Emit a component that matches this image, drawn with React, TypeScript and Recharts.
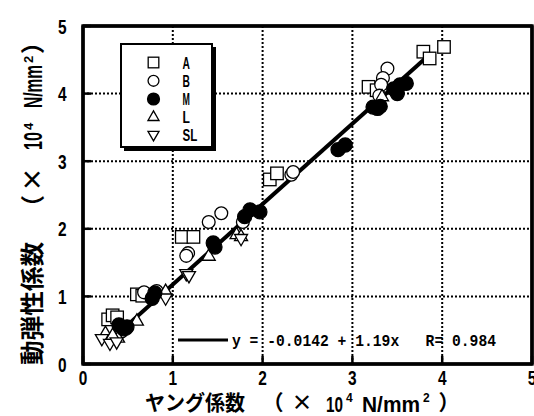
import React from 'react';
import { ScatterChart, Scatter, XAxis, YAxis, CartesianGrid, ReferenceLine, ReferenceArea, Customized } from 'recharts';

type Pt = [number, number];

// Series A (open squares)
const seriesA: Pt[] = [
  [3.79, 4.62], [3.86, 4.52], [4.02, 4.69], [3.18, 4.10], [3.27, 4.05],
  [2.08, 2.73], [2.16, 2.82], [1.10, 1.88], [1.23, 1.88], [0.60, 1.03],
  [0.66, 1.01], [0.28, 0.66], [0.33, 0.72], [0.38, 0.69],
];
// Series B (open circles)
const seriesB: Pt[] = [
  [3.39, 4.37], [3.34, 4.23], [3.32, 4.13], [3.30, 3.97], [2.32, 2.80],
  [2.34, 2.84], [1.54, 2.23], [1.40, 2.10], [1.78, 2.10], [1.17, 1.64],
  [1.15, 1.60], [0.82, 1.08], [0.68, 1.06], [0.43, 0.48], [0.48, 0.52],
];
// Series M (filled circles)
const seriesM: Pt[] = [
  [3.53, 4.13], [3.60, 4.15], [3.46, 4.07], [3.50, 4.00], [3.31, 3.81],
  [3.23, 3.80], [3.28, 3.78], [2.84, 3.17], [2.92, 3.24], [1.97, 2.25],
  [1.86, 2.28], [1.80, 2.18], [1.45, 1.79], [1.47, 1.73], [0.80, 1.05],
  [0.77, 0.97], [0.40, 0.58], [0.49, 0.55], [0.45, 0.52],
];
// Series L (triangles up)
const seriesL: Pt[] = [
  [3.33, 3.95], [1.71, 1.91], [1.76, 1.88], [1.40, 1.59], [0.92, 1.07],
  [0.60, 0.63], [0.25, 0.45], [0.39, 0.38], [0.33, 0.42],
];
// Series SL (triangles down)
const seriesSL: Pt[] = [
  [1.76, 1.86], [1.15, 1.34], [1.18, 1.31], [0.92, 0.98], [0.21, 0.38],
  [0.30, 0.31], [0.375, 0.33],
];

const xTicks = [0, 1, 2, 3, 4, 5];
const yTicks = [0, 1, 2, 3, 4, 5];
const legendNames = ['A', 'B', 'M', 'L', 'SL'];
const fitIntercept = -0.0142;
const fitSlope = 1.19;
const fitR = 0.984;
const fitRange: [number, number] = [0.45, 3.82];

const toObjs = (s: Pt[]) => s.map(([x, y]) => ({ x, y }));

const SANS = '"Liberation Sans", Arial, sans-serif';
const CJK = '"Noto Sans CJK JP", sans-serif';
const MONO = '"Liberation Mono", "DejaVu Sans Mono", monospace';

const SW = 1.3;
const TICK_LEN = 8;

// layout of the plot frame (pixels)
const PLOT = { left: 83, top: 26, right: 532, bottom: 364 };

function drawMarker(kind: string, cx: number, cy: number, scale = 1) {
  if (kind === 'A') {
    const s = 12.5 * scale;
    return <rect x={cx - s / 2} y={cy - s / 2} width={s} height={s} fill="#fff" stroke="#000" strokeWidth={SW} />;
  }
  if (kind === 'B') {
    return <circle cx={cx} cy={cy} r={6.4 * scale} fill="#fff" stroke="#000" strokeWidth={SW} />;
  }
  if (kind === 'M') {
    return <circle cx={cx} cy={cy} r={7 * scale} fill="#000" stroke="#000" strokeWidth={SW} />;
  }
  const s = 13 * scale;
  const h = s * 0.866;
  if (kind === 'L') {
    const pts = `${cx},${cy - (h * 2) / 3} ${cx - s / 2},${cy + h / 3} ${cx + s / 2},${cy + h / 3}`;
    return <polygon points={pts} fill="#fff" stroke="#000" strokeWidth={SW} />;
  }
  const pts = `${cx},${cy + (h * 2) / 3} ${cx - s / 2},${cy - h / 3} ${cx + s / 2},${cy - h / 3}`;
  return <polygon points={pts} fill="#fff" stroke="#000" strokeWidth={SW} />;
}

const shapeFor = (kind: string) => (props: any) => {
  const { cx, cy } = props;
  if (cx == null || cy == null) return <g />;
  return drawMarker(kind, cx, cy);
};

const BOTTOM_MARGIN = 6;
const LEFT_MARGIN = 16.5;

function BottomTick(props: any) {
  const { x, y, payload } = props;
  const axisY = y - BOTTOM_MARGIN;
  const label = String(payload.value);
  return (
    <g>
      <line x1={x} y1={axisY} x2={x} y2={axisY - TICK_LEN} stroke="#000" strokeWidth={2.5} />
      <text x={x} y={axisY + 21} textAnchor="middle" fontFamily={SANS} fontWeight="bold" fontSize={21} fill="#000"
        textLength={8.6 * label.length} lengthAdjust="spacingAndGlyphs">{label}</text>
    </g>
  );
}

function LeftTick(props: any) {
  const { x, y, payload } = props;
  const axisX = x + LEFT_MARGIN;
  const label = String(payload.value);
  return (
    <g>
      <line x1={axisX} y1={y} x2={axisX + TICK_LEN} y2={y} stroke="#000" strokeWidth={2.5} />
      <text x={x} y={y + 7.5} textAnchor="end" fontFamily={SANS} fontWeight="bold" fontSize={21} fill="#000"
        textLength={8.6 * label.length} lengthAdjust="spacingAndGlyphs">{label}</text>
    </g>
  );
}

function Overlay() {
  const rowY = [62.5, 80.8, 99, 117.3, 134.5];
  const eq = `y = ${fitIntercept.toFixed(4)} + ${fitSlope}x   R= ${fitR}`;
  return (
    <g>
      {/* plot frame */}
      <rect x={PLOT.left} y={PLOT.top} width={PLOT.right - PLOT.left} height={PLOT.bottom - PLOT.top}
        fill="none" stroke="#000" strokeWidth={3} />
      {/* legend box */}
      <rect x={124} y={47} width={92} height={104} fill="#000" />
      <rect x={121} y={44} width={91} height={103} fill="#fff" stroke="#000" strokeWidth={2} />
      {legendNames.map((n, i) => (
        <g key={n}>
          {drawMarker(n, 153.5, rowY[i], 0.85)}
          <text x={182.5} y={rowY[i] + 6} fontFamily={SANS} fontWeight="bold" fontSize={17} fill="#000"
            textLength={7.4 * n.length} lengthAdjust="spacingAndGlyphs">
            {n}
          </text>
        </g>
      ))}
      {/* regression legend */}
      <line x1={178} y1={340} x2={228} y2={340} stroke="#000" strokeWidth={3} />
      <text x={232} y={345.7} fontFamily={MONO} fontWeight="bold" fontSize={17} fill="#000" textLength={264} lengthAdjust="spacingAndGlyphs" style={{ whiteSpace: 'pre' }}>
        {eq}
      </text>
      {/* x axis title */}
      <g fill="#000" fontWeight="bold">
        <text x={145} y={410} fontFamily={CJK} fontSize={21} textLength={100} lengthAdjust="spacingAndGlyphs">ヤング係数</text>
        <text x={273} y={410} textAnchor="middle" fontFamily={CJK} fontSize={21}>（</text>
        <text x={302} y={410} textAnchor="middle" fontFamily={CJK} fontSize={21}>×</text>
        <text x={326} y={411.7} fontFamily={SANS} fontSize={22} textLength={17} lengthAdjust="spacingAndGlyphs">10</text>
        <text x={346} y={401.7} fontFamily={SANS} fontSize={12}>4</text>
        <text x={362} y={411.7} fontFamily={SANS} fontSize={22} textLength={58} lengthAdjust="spacingAndGlyphs">N/mm</text>
        <text x={423} y={401.7} fontFamily={SANS} fontSize={12}>2</text>
        <text x={449} y={410} textAnchor="middle" fontFamily={CJK} fontSize={21}>）</text>
      </g>
      {/* y axis title */}
      <g fill="#000" fontWeight="bold" transform="translate(32.5,0) rotate(-90)">
        <text x={-365} y={8.5} fontFamily={CJK} fontSize={24} textLength={123} lengthAdjust="spacingAndGlyphs">動弾性係数</text>
        <text x={-207} y={8.5} textAnchor="middle" fontFamily={CJK} fontSize={24}>（</text>
        <text x={-179.5} y={8.5} textAnchor="middle" fontFamily={CJK} fontSize={24}>×</text>
        <text x={-150} y={9.5} fontFamily={SANS} fontSize={26} textLength={18} lengthAdjust="spacingAndGlyphs">10</text>
        <text x={-130} y={0.5} fontFamily={SANS} fontSize={13}>4</text>
        <text x={-108} y={9.5} fontFamily={SANS} fontSize={26} textLength={43} lengthAdjust="spacingAndGlyphs">N/mm</text>
        <text x={-63} y={0.5} fontFamily={SANS} fontSize={13}>2</text>
        <text x={-42} y={8.5} textAnchor="middle" fontFamily={CJK} fontSize={24}>）</text>
      </g>
    </g>
  );
}

const frameLine = { stroke: '#000', strokeWidth: 3 };
const tickLineStyle = { stroke: '#000', strokeWidth: 2.5 };

export default function App() {
  return (
    <div style={{ position: 'fixed', left: 0, top: 0, width: 534, height: 416, overflow: 'hidden', background: '#fff' }}>
      <ScatterChart width={540} height={416} margin={{ top: 25, right: 7, bottom: 0, left: 0 }}>
        <CartesianGrid stroke="#000" strokeDasharray="2 2" strokeWidth={2} />
        <XAxis
          type="number"
          dataKey="x"
          domain={[0, 5]}
          ticks={xTicks}
          allowDataOverflow
          height={52}
          axisLine={frameLine}
          tickLine={false}
          tickSize={0}
          tickMargin={BOTTOM_MARGIN}
          tick={<BottomTick />}
        />
        <XAxis
          xAxisId="top"
          orientation="top"
          type="number"
          domain={[0, 5]}
          ticks={xTicks}
          allowDataOverflow
          height={1}
          axisLine={frameLine}
          tickLine={tickLineStyle}
          tickSize={-TICK_LEN}
          tick={false}
        />
        <YAxis
          type="number"
          dataKey="y"
          domain={[0, 5]}
          ticks={yTicks}
          allowDataOverflow
          width={83}
          axisLine={frameLine}
          tickLine={false}
          tickSize={0}
          tickMargin={LEFT_MARGIN}
          tick={<LeftTick />}
        />
        <YAxis
          yAxisId="right"
          orientation="right"
          type="number"
          domain={[0, 5]}
          ticks={yTicks}
          allowDataOverflow
          width={1}
          axisLine={frameLine}
          tickLine={tickLineStyle}
          tickSize={-TICK_LEN}
          tick={false}
        />
        <ReferenceArea x1={0} x2={5} y1={0} y2={5} fill="none" stroke="#000" strokeWidth={3} ifOverflow="visible" />
        <ReferenceLine
          segment={[
            { x: fitRange[0], y: fitIntercept + fitSlope * fitRange[0] },
            { x: fitRange[1], y: fitIntercept + fitSlope * fitRange[1] },
          ]}
          stroke="#000"
          strokeWidth={4}
        />
        <Scatter data={toObjs(seriesA)} shape={shapeFor('A')} isAnimationActive={false} />
        <Scatter data={toObjs(seriesB)} shape={shapeFor('B')} isAnimationActive={false} />
        <Scatter data={toObjs(seriesL)} shape={shapeFor('L')} isAnimationActive={false} />
        <Scatter data={toObjs(seriesSL)} shape={shapeFor('SL')} isAnimationActive={false} />
        <Scatter data={toObjs(seriesM)} shape={shapeFor('M')} isAnimationActive={false} />
        <Customized component={Overlay} />
      </ScatterChart>
    </div>
  );
}
